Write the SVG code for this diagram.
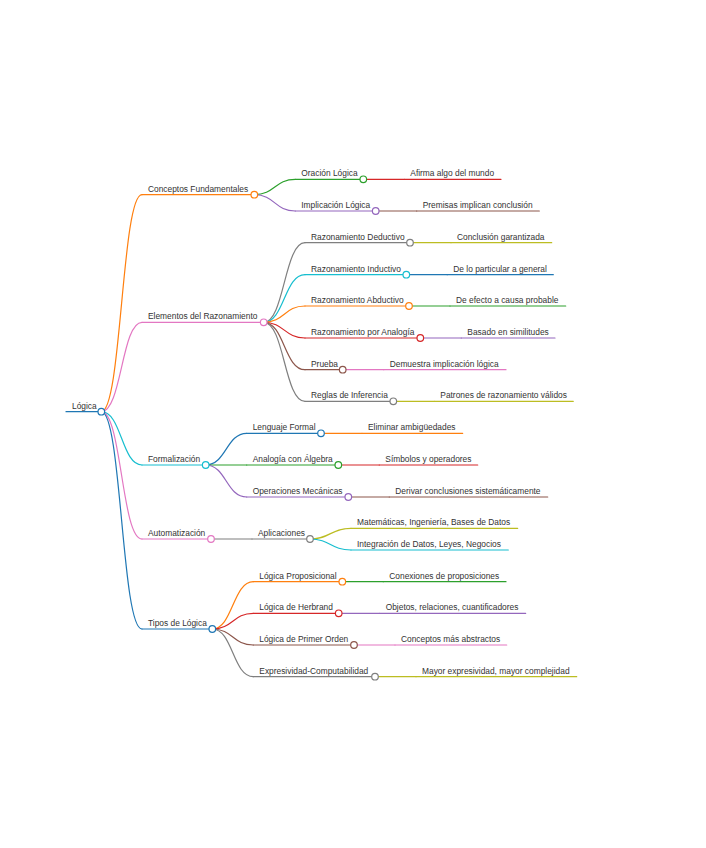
<svg xmlns="http://www.w3.org/2000/svg" width="706" height="848" viewBox="0 0 706 848">
<style>
text{font-family:"Liberation Sans",Arial,sans-serif;font-size:8.4px;fill:#333}
path,line{fill:none;stroke-width:1.2;stroke-linecap:round}
circle{fill:#fff;stroke-width:1.2}
.blue{stroke:#1f77b4}.orange{stroke:#ff7f0e}.green{stroke:#2ca02c}.red{stroke:#d62728}.purple{stroke:#9467bd}
.brown{stroke:#8c564b}.pink{stroke:#e377c2}.gray{stroke:#7f7f7f}.olive{stroke:#bcbd22}.cyan{stroke:#17becf}
</style>
<rect width="706" height="848" fill="#fff"/>
<g id="connectors">
<!-- root to level 1 -->
<path class="orange" d="M101.3,411.7 C121.6,411.7 121.6,194.7 142,194.7"/>
<path class="pink" d="M101.3,411.7 C121.6,411.7 121.6,322.3 142,322.3"/>
<path class="cyan" d="M101.3,411.7 C121.6,411.7 121.6,465 142,465"/>
<path class="pink" d="M101.3,411.7 C121.6,411.7 121.6,539 142,539"/>
<path class="blue" d="M101.3,411.7 C121.6,411.7 121.6,629 142,629"/>
<!-- Conceptos -->
<path class="green" d="M254.3,194.7 C274.8,194.7 274.8,179.3 295.3,179.3"/>
<path class="purple" d="M254.3,194.7 C274.8,194.7 274.8,211 295.3,211"/>
<path class="red" d="M363.3,179.3 L404.3,179.3"/>
<path class="brown" d="M375.7,211 L416.7,211"/>
<!-- Elementos -->
<path class="gray" d="M263.7,322.3 C284.3,322.3 284.3,242.7 305,242.7"/>
<path class="cyan" d="M263.7,322.3 C284.3,322.3 284.3,274.7 305,274.7"/>
<path class="orange" d="M263.7,322.3 C284.3,322.3 284.3,306 305,306"/>
<path class="red" d="M263.7,322.3 C284.3,322.3 284.3,338 305,338"/>
<path class="brown" d="M263.7,322.3 C284.3,322.3 284.3,369.7 305,369.7"/>
<path class="gray" d="M263.7,322.3 C284.3,322.3 284.3,401.3 305,401.3"/>
<path class="olive" d="M410,242.7 L451,242.7"/>
<path class="blue" d="M406.3,274.7 L447.3,274.7"/>
<path class="green" d="M409,306 L450,306"/>
<path class="purple" d="M420.3,338 L461.3,338"/>
<path class="pink" d="M342.7,369.7 L383.7,369.7"/>
<path class="olive" d="M393.3,401.3 L434.3,401.3"/>
<!-- Formalizacion -->
<path class="blue" d="M205.7,465 C226.2,465 226.2,433.3 246.7,433.3"/>
<path class="green" d="M205.7,465 L246.7,465"/>
<path class="purple" d="M205.7,465 C226.2,465 226.2,497 246.7,497"/>
<path class="orange" d="M321,433.3 L362,433.3"/>
<path class="red" d="M338.3,465 L379.3,465"/>
<path class="brown" d="M348.3,497 L389.3,497"/>
<!-- Automatizacion -->
<path class="gray" d="M211,539 L252,539"/>
<path class="olive" d="M310,539 C330.5,539 330.5,528.3 351,528.3"/>
<path class="cyan" d="M310,539 C330.5,539 330.5,550 351,550"/>
<!-- Tipos -->
<path class="orange" d="M212.3,629 C232.8,629 232.8,581.7 253.3,581.7"/>
<path class="red" d="M212.3,629 C232.8,629 232.8,613.3 253.3,613.3"/>
<path class="brown" d="M212.3,629 C232.8,629 232.8,645 253.3,645"/>
<path class="gray" d="M212.3,629 C232.8,629 232.8,676.7 253.3,676.7"/>
<path class="green" d="M342.3,581.7 L383.3,581.7"/>
<path class="purple" d="M338.7,613.3 L379.7,613.3"/>
<path class="pink" d="M354,645 L395,645"/>
<path class="olive" d="M375,676.7 L416,676.7"/>
</g>

<g id="n-logica"><line class="blue" x1="66" y1="411.7" x2="101.3" y2="411.7"/><text x="72" y="408.7">Lógica</text><circle class="blue" cx="101.3" cy="411.7" r="3.3"/></g>

<g id="n-conceptos"><line class="orange" x1="142" y1="194.7" x2="254.3" y2="194.7"/><text x="148" y="191.7">Conceptos Fundamentales</text><circle class="orange" cx="254.3" cy="194.7" r="3.3"/></g>
<g id="n-oracion"><line class="green" x1="295.3" y1="179.3" x2="363.3" y2="179.3"/><text x="301.3" y="176.3">Oración Lógica</text><circle class="green" cx="363.3" cy="179.3" r="3.3"/></g>
<g id="n-afirma"><line class="red" x1="404.3" y1="179.3" x2="501" y2="179.3"/><text x="410.3" y="176.3">Afirma algo del mundo</text></g>
<g id="n-implicacion"><line class="purple" x1="295.3" y1="211" x2="375.7" y2="211"/><text x="301.3" y="208">Implicación Lógica</text><circle class="purple" cx="375.7" cy="211" r="3.3"/></g>
<g id="n-premisas"><line class="brown" x1="416.7" y1="211" x2="539.3" y2="211"/><text x="422.7" y="208">Premisas implican conclusión</text></g>

<g id="n-elementos"><line class="pink" x1="142" y1="322.3" x2="263.7" y2="322.3"/><text x="148" y="319.3">Elementos del Razonamiento</text><circle class="pink" cx="263.7" cy="322.3" r="3.3"/></g>
<g id="n-deductivo"><line class="gray" x1="305" y1="242.7" x2="410" y2="242.7"/><text x="311" y="239.7">Razonamiento Deductivo</text><circle class="gray" cx="410" cy="242.7" r="3.3"/></g>
<g id="n-garantizada"><line class="olive" x1="451" y1="242.7" x2="551.7" y2="242.7"/><text x="457" y="239.7">Conclusión garantizada</text></g>
<g id="n-inductivo"><line class="cyan" x1="305" y1="274.7" x2="406.3" y2="274.7"/><text x="311" y="271.7">Razonamiento Inductivo</text><circle class="cyan" cx="406.3" cy="274.7" r="3.3"/></g>
<g id="n-particular"><line class="blue" x1="447.3" y1="274.7" x2="553.3" y2="274.7"/><text x="453.3" y="271.7">De lo particular a general</text></g>
<g id="n-abductivo"><line class="orange" x1="305" y1="306" x2="409" y2="306"/><text x="311" y="303">Razonamiento Abductivo</text><circle class="orange" cx="409" cy="306" r="3.3"/></g>
<g id="n-efecto"><line class="green" x1="450" y1="306" x2="565.7" y2="306"/><text x="456" y="303">De efecto a causa probable</text></g>
<g id="n-analogia"><line class="red" x1="305" y1="338" x2="420.3" y2="338"/><text x="311" y="335">Razonamiento por Analogía</text><circle class="red" cx="420.3" cy="338" r="3.3"/></g>
<g id="n-similitudes"><line class="purple" x1="461.3" y1="338" x2="555" y2="338"/><text x="467.3" y="335">Basado en similitudes</text></g>
<g id="n-prueba"><line class="brown" x1="305" y1="369.7" x2="342.7" y2="369.7"/><text x="311" y="366.7">Prueba</text><circle class="brown" cx="342.7" cy="369.7" r="3.3"/></g>
<g id="n-demuestra"><line class="pink" x1="383.7" y1="369.7" x2="506" y2="369.7"/><text x="389.7" y="366.7">Demuestra implicación lógica</text></g>
<g id="n-reglas"><line class="gray" x1="305" y1="401.3" x2="393.3" y2="401.3"/><text x="311" y="398.3">Reglas de Inferencia</text><circle class="gray" cx="393.3" cy="401.3" r="3.3"/></g>
<g id="n-patrones"><line class="olive" x1="434.3" y1="401.3" x2="573.3" y2="401.3"/><text x="440.3" y="398.3">Patrones de razonamiento válidos</text></g>

<g id="n-formalizacion"><line class="cyan" x1="142" y1="465" x2="205.7" y2="465"/><text x="148" y="462">Formalización</text><circle class="cyan" cx="205.7" cy="465" r="3.3"/></g>
<g id="n-lenguaje"><line class="blue" x1="246.7" y1="433.3" x2="321" y2="433.3"/><text x="252.7" y="430.3">Lenguaje Formal</text><circle class="blue" cx="321" cy="433.3" r="3.3"/></g>
<g id="n-eliminar"><line class="orange" x1="362" y1="433.3" x2="462.7" y2="433.3"/><text x="368" y="430.3">Eliminar ambigüedades</text></g>
<g id="n-algebra"><line class="green" x1="246.7" y1="465" x2="338.3" y2="465"/><text x="252.7" y="462">Analogía con Álgebra</text><circle class="green" cx="338.3" cy="465" r="3.3"/></g>
<g id="n-simbolos"><line class="red" x1="379.3" y1="465" x2="477.7" y2="465"/><text x="385.3" y="462">Símbolos y operadores</text></g>
<g id="n-operaciones"><line class="purple" x1="246.7" y1="497" x2="348.3" y2="497"/><text x="252.7" y="494">Operaciones Mecánicas</text><circle class="purple" cx="348.3" cy="497" r="3.3"/></g>
<g id="n-derivar"><line class="brown" x1="389.3" y1="497" x2="547.7" y2="497"/><text x="395.3" y="494">Derivar conclusiones sistemáticamente</text></g>

<g id="n-automatizacion"><line class="pink" x1="142" y1="539" x2="211" y2="539"/><text x="148" y="536">Automatización</text><circle class="pink" cx="211" cy="539" r="3.3"/></g>
<g id="n-aplicaciones"><line class="gray" x1="252" y1="539" x2="310" y2="539"/><text x="258" y="536">Aplicaciones</text><circle class="gray" cx="310" cy="539" r="3.3"/></g>
<g id="n-matematicas"><line class="olive" x1="351" y1="528.3" x2="517.7" y2="528.3"/><text x="357" y="525.3">Matemáticas, Ingeniería, Bases de Datos</text></g>
<g id="n-integracion"><line class="cyan" x1="351" y1="550" x2="508.3" y2="550"/><text x="357" y="547">Integración de Datos, Leyes, Negocios</text></g>

<g id="n-tipos"><line class="blue" x1="142" y1="629" x2="212.3" y2="629"/><text x="148" y="626">Tipos de Lógica</text><circle class="blue" cx="212.3" cy="629" r="3.3"/></g>
<g id="n-proposicional"><line class="orange" x1="253.3" y1="581.7" x2="342.3" y2="581.7"/><text x="259.3" y="578.7">Lógica Proposicional</text><circle class="orange" cx="342.3" cy="581.7" r="3.3"/></g>
<g id="n-conexiones"><line class="green" x1="383.3" y1="581.7" x2="506" y2="581.7"/><text x="389.3" y="578.7">Conexiones de proposiciones</text></g>
<g id="n-herbrand"><line class="red" x1="253.3" y1="613.3" x2="338.7" y2="613.3"/><text x="259.3" y="610.3">Lógica de Herbrand</text><circle class="red" cx="338.7" cy="613.3" r="3.3"/></g>
<g id="n-objetos"><line class="purple" x1="379.7" y1="613.3" x2="525.7" y2="613.3"/><text x="385.7" y="610.3">Objetos, relaciones, cuantificadores</text></g>
<g id="n-primer"><line class="brown" x1="253.3" y1="645" x2="354" y2="645"/><text x="259.3" y="642">Lógica de Primer Orden</text><circle class="brown" cx="354" cy="645" r="3.3"/></g>
<g id="n-abstractos"><line class="pink" x1="395" y1="645" x2="506.7" y2="645"/><text x="401" y="642">Conceptos más abstractos</text></g>
<g id="n-expresividad"><line class="gray" x1="253.3" y1="676.7" x2="375" y2="676.7"/><text x="259.3" y="673.7">Expresividad-Computabilidad</text><circle class="gray" cx="375" cy="676.7" r="3.3"/></g>
<g id="n-mayor"><line class="olive" x1="416" y1="676.7" x2="576.7" y2="676.7"/><text x="422" y="673.7">Mayor expresividad, mayor complejidad</text></g>
</svg>
